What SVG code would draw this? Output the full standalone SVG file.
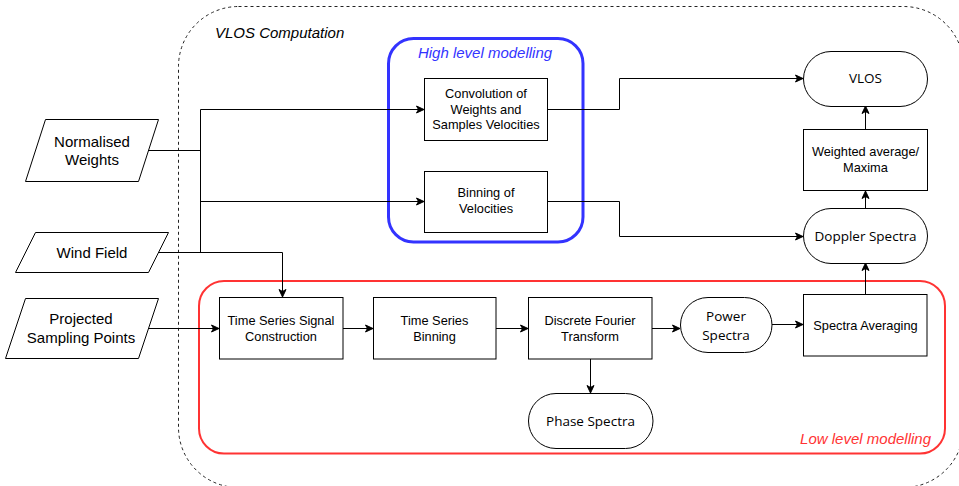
<svg xmlns="http://www.w3.org/2000/svg" width="959" height="486" viewBox="0 0 959 486">
<defs>
<marker id="arr" markerUnits="userSpaceOnUse" markerWidth="9" markerHeight="9" refX="8" refY="4.5" orient="auto" viewBox="0 0 9 9">
<path d="M0.5,1 L8,4.5 L0.5,8 L2.5,4.5 Z" fill="#000" stroke="#000" stroke-width="1"/>
</marker>
<style>
.box{fill:#fff;stroke:#000;stroke-width:1}
.t{font-family:"Liberation Sans",Arial,sans-serif;font-size:12.8px;fill:#000;text-anchor:middle}
.ti{font-family:"Liberation Sans",Arial,sans-serif;font-size:15px;fill:#000;text-anchor:middle}
.tp{font-family:"Open Sans","Noto Sans",sans-serif;font-size:13.5px;fill:#000;text-anchor:middle}
.lbl{font-family:"Liberation Sans",Arial,sans-serif;font-size:15px;font-style:italic}
.c{fill:none;stroke:#000;stroke-width:1}
.ca{fill:none;stroke:#000;stroke-width:1;marker-end:url(#arr)}
</style>
</defs>
<rect width="959" height="486" fill="#fff"/>

<g id="vlos-computation">
<rect x="178.5" y="6.5" width="785" height="481" rx="60" ry="60" fill="none" stroke="#222" stroke-width="1" stroke-dasharray="3 3"/>
<text class="lbl" x="215" y="38" fill="#000">VLOS Computation</text>
</g>

<g id="high-level">
<rect x="388.5" y="38.5" width="194.5" height="203.5" rx="25" ry="25" fill="none" stroke="#3333FF" stroke-width="3"/>
<text class="lbl" x="485" y="58" fill="#3333FF" text-anchor="middle">High level modelling</text>
</g>

<g id="low-level">
<rect x="199" y="281" width="746" height="172.5" rx="25" ry="25" fill="none" stroke="#FF3333" stroke-width="2"/>
<text class="lbl" x="931" y="444" fill="#FF3333" text-anchor="end">Low level modelling</text>
</g>

<g id="connectors">
<path class="c" d="M148,150.5 H200.5"/>
<path class="c" d="M200.5,109.5 V252.5"/>
<path class="ca" d="M200.5,109.5 H424"/>
<path class="ca" d="M200.5,201.5 H424"/>
<path class="ca" d="M158,252.5 H282.5 V297"/>
<path class="ca" d="M148,328.5 H219"/>
<path class="ca" d="M547,109.5 H619.5 V78.5 H803"/>
<path class="ca" d="M547,201.5 H619.5 V236.5 H803"/>
<path class="ca" d="M865.5,129 V106"/>
<path class="ca" d="M865.5,208 V191"/>
<path class="ca" d="M865.5,294 V263"/>
<path class="ca" d="M343,328.5 H373"/>
<path class="ca" d="M496,328.5 H528"/>
<path class="ca" d="M652,328.5 H680"/>
<path class="ca" d="M772,324.5 H803"/>
<path class="ca" d="M590.5,359 V393"/>
</g>

<g id="normalised-weights">
<path class="box" d="M45.5,119.5 H158.5 L138.5,181.5 H25.5 Z"/>
<text class="ti" x="92" y="147">Normalised</text>
<text class="ti" x="92" y="165">Weights</text>
</g>

<g id="wind-field">
<path class="box" d="M35.5,232.5 H168.5 L148.5,272.5 H15.5 Z"/>
<text class="ti" x="92" y="258">Wind Field</text>
</g>

<g id="projected-sampling-points">
<path class="box" d="M25.5,298.5 H158.5 L138.5,358.5 H5.5 Z"/>
<text class="ti" x="81" y="324">Projected</text>
<text class="ti" x="81" y="343">Sampling Points</text>
</g>

<g id="convolution">
<rect class="box" x="424.5" y="78.5" width="123" height="62"/>
<text class="t" x="486" y="98">Convolution of</text>
<text class="t" x="486" y="114">Weights and</text>
<text class="t" x="486" y="129">Samples Velocities</text>
</g>

<g id="binning-velocities">
<rect class="box" x="424.5" y="171.5" width="123" height="61"/>
<text class="t" x="486" y="197">Binning of</text>
<text class="t" x="486" y="213">Velocities</text>
</g>

<g id="vlos">
<rect class="box" x="803.5" y="51.5" width="124" height="55" rx="27.5" ry="27.5"/>
<text class="tp" x="865.5" y="83">VLOS</text>
</g>

<g id="weighted-average">
<rect class="box" x="803.5" y="129.5" width="124" height="61"/>
<text class="t" x="865.5" y="156">Weighted average/</text>
<text class="t" x="865.5" y="172">Maxima</text>
</g>

<g id="doppler-spectra">
<rect class="box" x="803.5" y="208.5" width="124" height="55" rx="27.5" ry="27.5"/>
<text class="tp" x="865.5" y="241">Doppler Spectra</text>
</g>

<g id="time-series-signal">
<rect class="box" x="219.5" y="297.5" width="123.5" height="61.5"/>
<text class="t" x="281" y="325">Time Series Signal</text>
<text class="t" x="281" y="341">Construction</text>
</g>

<g id="time-series-binning">
<rect class="box" x="373.5" y="297.5" width="122.5" height="61.5"/>
<text class="t" x="434.5" y="325">Time Series</text>
<text class="t" x="434.5" y="341">Binning</text>
</g>

<g id="dft">
<rect class="box" x="528.5" y="297.5" width="123.5" height="61.5"/>
<text class="t" x="590" y="325">Discrete Fourier</text>
<text class="t" x="590" y="341">Transform</text>
</g>

<g id="power-spectra">
<rect class="box" x="680.5" y="297.5" width="91.5" height="55" rx="27.5" ry="27.5"/>
<text class="tp" x="726" y="321">Power</text>
<text class="tp" x="726" y="340">Spectra</text>
</g>

<g id="spectra-averaging">
<rect class="box" x="803.5" y="294.5" width="123.5" height="61.5"/>
<text class="t" x="865.5" y="330">Spectra Averaging</text>
</g>

<g id="phase-spectra">
<rect class="box" x="528.5" y="393.5" width="124.5" height="55" rx="27.5" ry="27.5"/>
<text class="tp" x="590.5" y="426">Phase Spectra</text>
</g>
</svg>
